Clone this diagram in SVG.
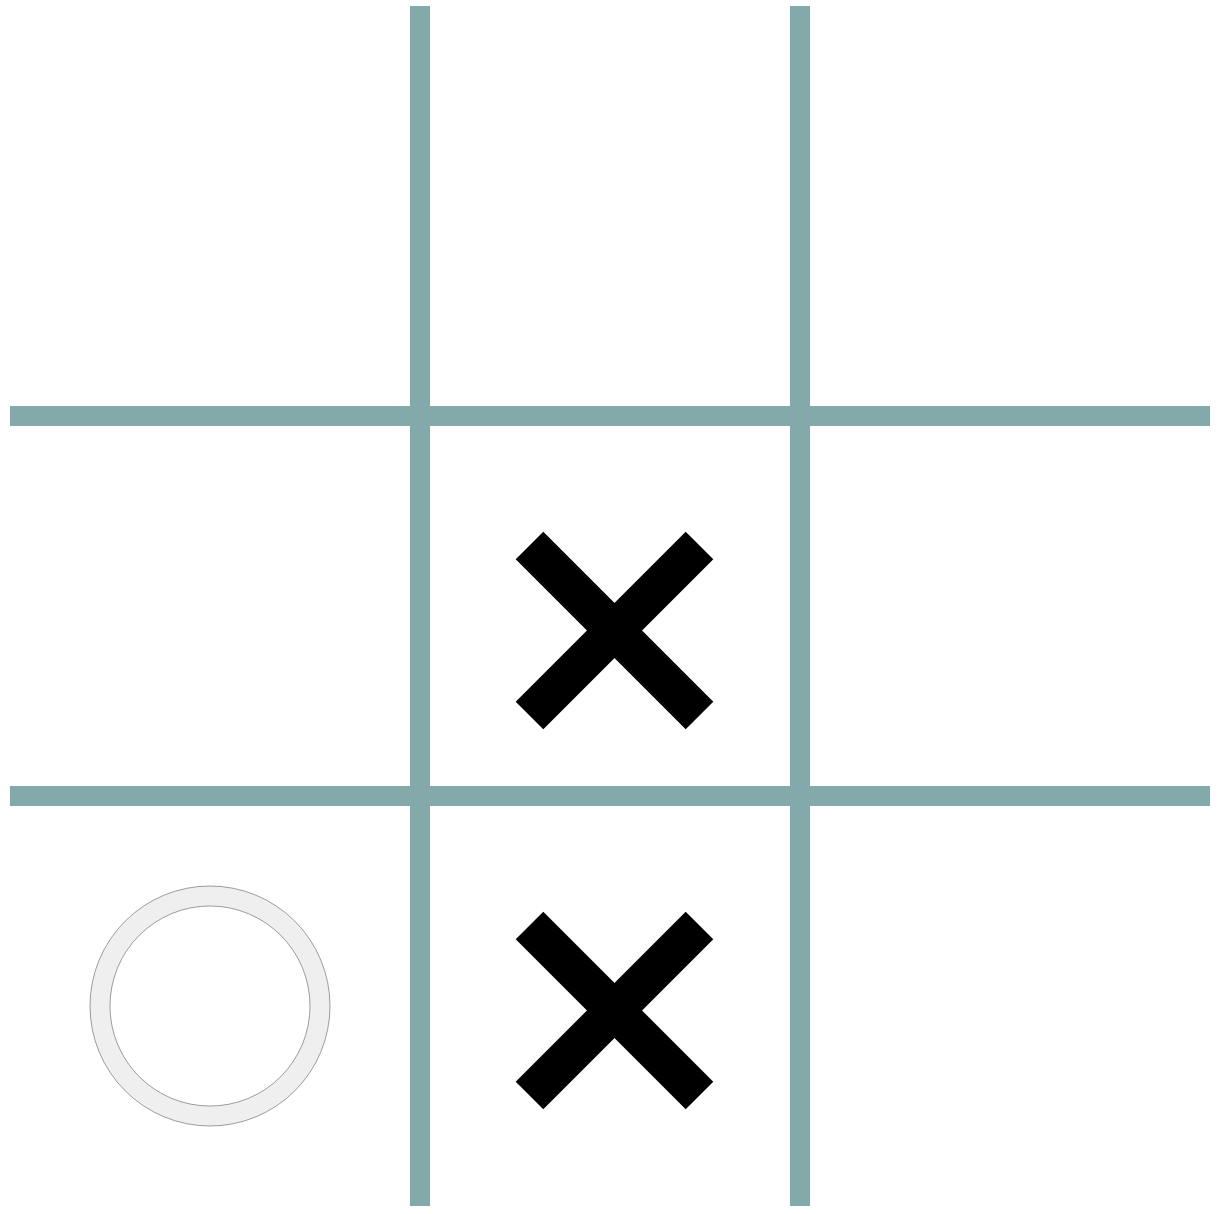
<svg xmlns="http://www.w3.org/2000/svg" width="1218" height="1214" viewBox="0 0 1218 1214">
<style>
.grid{fill:#84a9aa}
.x line{stroke:#000;stroke-width:39;stroke-linecap:butt}
.rim{fill:none;stroke:#111;stroke-width:0.4}
</style>
<rect width="1218" height="1214" fill="#fff"/>
<g id="grid">
<rect class="grid" x="410" y="6" width="20" height="1200"/>
<rect class="grid" x="790" y="6" width="20" height="1200"/>
<rect class="grid" x="10" y="406" width="1200" height="20"/>
<rect class="grid" x="10" y="786" width="1200" height="20"/>
</g>
<g id="x1" class="x">
<line x1="529.5" y1="545.5" x2="699.5" y2="715.5"/>
<line x1="699.5" y1="545.5" x2="529.5" y2="715.5"/>
</g>
<g id="x2" class="x">
<line x1="529.5" y1="925.5" x2="699.5" y2="1095.5"/>
<line x1="699.5" y1="925.5" x2="529.5" y2="1095.5"/>
</g>
<g id="o1">
<circle cx="210" cy="1006" r="110" fill="none" stroke="#efefef" stroke-width="20"/>
<circle class="rim" cx="210" cy="1006" r="120"/>
<circle class="rim" cx="210" cy="1006" r="100"/>
</g>
</svg>
